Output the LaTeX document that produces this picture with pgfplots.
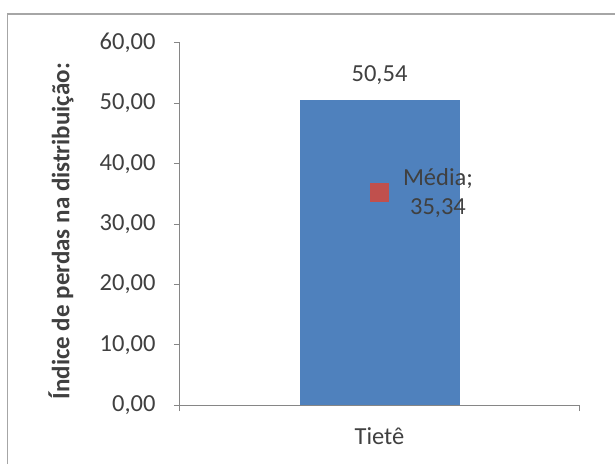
\documentclass[border=0pt]{standalone}
\usepackage{pgfplots}
\pgfplotsset{compat=1.18}
\usepackage{fontspec}
\setmainfont{Carlito}
\definecolor{barblue}{HTML}{4F81BD}
\definecolor{mred}{HTML}{C0504D}
\definecolor{txt}{HTML}{404040}
\definecolor{axgray}{HTML}{868686}
\definecolor{frame}{HTML}{A6A6A6}
\begin{document}
\begin{tikzpicture}[font=\fontsize{24.5}{28}\selectfont]
\begin{axis}[
  scale only axis, width=399pt, height=362pt,
  xmin=-0.5, xmax=0.5, ymin=0, ymax=60,
  axis x line=bottom, axis y line=left,
  axis line style={axgray, line width=1pt, -},
  ytick={0,10,...,60},
  xtick={-0.5,0.5}, xticklabels={},
  extra x ticks={0}, extra x tick labels={Tietê},
  extra x tick style={major tick length=0pt, xticklabel style={yshift=-19pt}},
  tick align=outside, major tick length=6pt,
  tick style={axgray, line width=1pt},
  /pgf/number format/assume math mode=true,
  /pgf/number format/.cd, fixed, fixed zerofill, precision=2, use comma, 1000 sep={},
  /pgfplots/.cd,
  ticklabel style={font=\fontsize{24.5}{28}\selectfont, text=txt},
  yticklabel style={xshift=-15pt},
  every axis y label/.style={at={(axis description cs:-0.298,0.48)}, anchor=center, rotate=90,
    font=\fontsize{25}{29}\selectfont\bfseries, text=txt},
  ylabel={Índice de perdas na distribuição:},
  clip=false,
]
\addplot[ybar, bar width=160pt, fill=barblue, draw=none,
  nodes near coords, nodes near coords style={font=\fontsize{24.5}{28}\selectfont, text=txt, anchor=south, yshift=12pt, /pgf/number format/assume math mode=true}]
  coordinates {(0,50.54)};
\addplot[only marks, mark=square*, mark size=9pt, mark options={fill=mred, draw=mred},
  nodes near coords={Média;\\[1pt]35,34}, nodes near coords style={font=\fontsize{24.5}{28}\selectfont, text=txt, anchor=west, align=center, xshift=20pt, yshift=-1pt}]
  coordinates {(0,35.34)};
\end{axis}
\draw[frame, line width=1.5pt] (-172.5pt,-59pt) -- (-172.5pt,391pt) -- (435pt,391pt);
\pgfresetboundingbox
\useasboundingbox (-180pt,-59pt) rectangle (435pt,405pt);
\end{tikzpicture}
\end{document}
